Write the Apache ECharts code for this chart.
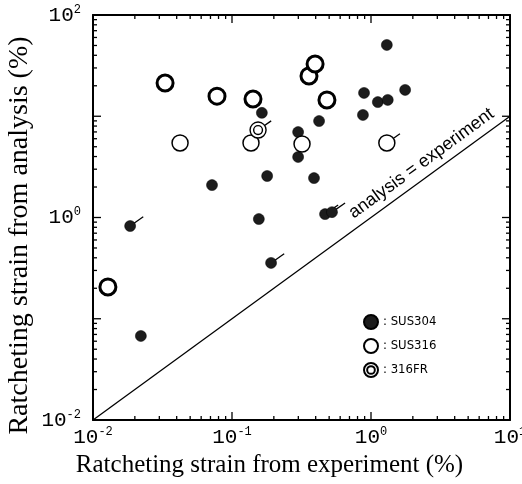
<!DOCTYPE html>
<html><head><meta charset="utf-8">
<script src="https://cdn.jsdelivr.net/npm/echarts@6/dist/echarts.min.js"></script>
<style>html,body{margin:0;padding:0;background:#fff}#c{width:522px;height:484px}</style>
</head><body><div id="c"></div>
<script>
// [experiment %, analysis %]
const sus304 = [
  [0.0185, 0.824], [0.0221, 0.0676], [0.156, 0.966], [0.191, 0.356],
  [0.164, 10.8], [0.0718, 2.09], [0.179, 2.57], [0.299, 6.98], [0.299, 3.96],
  [1.30, 50.6], [0.891, 17.0], [1.76, 18.2], [1.12, 13.8], [1.32, 14.5],
  [0.875, 10.3], [0.423, 8.97], [0.389, 2.45], [0.467, 1.08], [0.524, 1.13]
];
const sus316Thick = [
  [0.0330, 21.3], [0.0780, 15.8], [0.1416, 14.8], [0.358, 25.0],
  [0.396, 32.8], [0.482, 14.5], [0.0128, 0.206]
];
const sus316Thin = [
  [0.0423, 5.45], [0.137, 5.45], [0.319, 5.32], [1.30, 5.45]
];
const fr316 = [[0.154, 7.31]];
const tailPoints = [
  [0.0185, 0.824], [0.191, 0.356], [0.154, 7.31], [1.30, 5.45], [0.467, 1.08], [0.524, 1.13]
];
const diagonal = [[0.01, 0.01], [10, 10]];
const xDecades = [-2, -1, 0, 1];
const yDecades = [-2, -1, 0, 1, 2];
const seriesNames = ['SUS304', 'SUS316', '316FR'];
const diagLabel = 'analysis = experiment';
const xTitle = 'Ratcheting strain from experiment (%)';
const yTitle = 'Ratcheting strain from analysis (%)';

const doubleCircle = 'path://M10,0A10,10,0,1,1,10,20A10,10,0,1,1,10,0ZM10,4.5A5.5,5.5,0,1,1,10,15.5A5.5,5.5,0,1,1,10,4.5Z';

function tickValues(decs) {
  const out = [];
  for (let i = 0; i < decs.length; i++) {
    const base = Math.pow(10, decs[i]);
    if (i === decs.length - 1) { out.push([base, true]); break; }
    for (let m = 1; m <= 9; m++) out.push([m * base, m === 1]);
  }
  return out;
}
const xTickVals = tickValues(xDecades);
const yTickVals = tickValues(yDecades);
const xMin = Math.pow(10, xDecades[0]), xMax = Math.pow(10, xDecades[xDecades.length - 1]);
const yMin = Math.pow(10, yDecades[0]), yMax = Math.pow(10, yDecades[yDecades.length - 1]);

function powLabel(v, showOdd) {
  const e = Math.round(Math.log10(v));
  if (!showOdd && e % 2 !== 0) return '';
  return '{b|10}{s|' + e + '}';
}
const richLab = {
  b: { fontFamily: 'Liberation Mono', fontSize: 21, color: '#000' },
  s: { fontFamily: 'Liberation Mono', fontSize: 12, color: '#000', padding: [0, 0, 11, 0] }
};
const axisCommon = {
  axisLine: { show: true, onZero: false, lineStyle: { color: '#000', width: 2 } },
  axisTick: { show: false },
  minorTick: { show: false },
  splitLine: { show: false },
  minorSplitLine: { show: false }
};

const chart = echarts.init(document.getElementById('c'));
chart.setOption({
  animation: false,
  backgroundColor: '#fff',
  grid: { left: 93, right: 12, top: 15, bottom: 64, containLabel: false, outerBoundsMode: 'none' },
  legend: {
    orient: 'vertical', left: 358, top: 309, itemGap: 8, itemWidth: 14, itemHeight: 14,
    data: seriesNames,
    formatter: ': {name}',
    textStyle: { fontFamily: 'DejaVu Sans Condensed', fontSize: 13, color: '#000' }
  },
  xAxis: [
    Object.assign({
      type: 'log', logBase: 10, min: xMin, max: xMax, position: 'bottom',
      name: xTitle, nameLocation: 'middle', nameGap: 45, nameMoveOverlap: false,
      nameTextStyle: { fontFamily: 'Liberation Serif', fontSize: 25, color: '#000', verticalAlign: 'middle', padding: [0, 64, 0, 0] },
      axisLabel: { formatter: v => powLabel(v, true), rich: richLab, margin: 6 }
    }, axisCommon),
    Object.assign({
      type: 'log', logBase: 10, min: xMin, max: xMax, position: 'top',
      axisLabel: { show: false }
    }, axisCommon)
  ],
  yAxis: [
    Object.assign({
      type: 'log', logBase: 10, min: yMin, max: yMax, position: 'left',
      name: yTitle, nameLocation: 'middle', nameGap: 73, nameMoveOverlap: false,
      nameTextStyle: { fontFamily: 'Liberation Serif', fontSize: 28, color: '#000', verticalAlign: 'middle', padding: [0, 36, 0, 0] },
      axisLabel: { formatter: v => powLabel(v, false), rich: richLab, margin: 12 }
    }, axisCommon),
    Object.assign({
      type: 'log', logBase: 10, min: yMin, max: yMax, position: 'right',
      axisLabel: { show: false }
    }, axisCommon)
  ],
  series: [
    {
      name: 'ticks', type: 'custom', z: 5, silent: true, clip: false,
      data: [[1, 1]],
      renderItem: function (params, api) {
        const left = api.coord([xMin, 1])[0], right = api.coord([xMax, 1])[0];
        const bottom = api.coord([1, yMin])[1], top = api.coord([1, yMax])[1];
        const kids = [];
        const st = { stroke: '#000', lineWidth: 1.3 };
        xTickVals.forEach(function (t) {
          const px = api.coord([t[0], 1])[0];
          const len = t[1] ? 8 : 4;
          kids.push({ type: 'line', shape: { x1: px, y1: bottom, x2: px, y2: bottom - len }, style: st });
          kids.push({ type: 'line', shape: { x1: px, y1: top, x2: px, y2: top + len }, style: st });
        });
        yTickVals.forEach(function (t) {
          const py = api.coord([1, t[0]])[1];
          const len = t[1] ? 8 : 4;
          kids.push({ type: 'line', shape: { x1: left, y1: py, x2: left + len, y2: py }, style: st });
          kids.push({ type: 'line', shape: { x1: right, y1: py, x2: right - len, y2: py }, style: st });
        });
        return { type: 'group', children: kids };
      }
    },
    {
      name: 'diag', type: 'line', data: [], silent: true,
      markLine: {
        silent: true, symbol: ['none', 'none'], animation: false,
        lineStyle: { color: '#000', width: 1.3, type: 'solid' },
        label: {
          show: true, position: 'insideEndTop', formatter: diagLabel, distance: [12, 5],
          fontFamily: 'Liberation Sans', fontSize: 18, color: '#000'
        },
        emphasis: { disabled: true },
        data: [[{ coord: diagonal[0] }, { coord: diagonal[1] }]]
      }
    },
    {
      name: 'tails', type: 'custom', z: 1, silent: true,
      data: tailPoints,
      renderItem: function (params, api) {
        const p = api.coord([api.value(0), api.value(1)]);
        const a = 35 * Math.PI / 180;
        return {
          type: 'line',
          shape: { x1: p[0], y1: p[1], x2: p[0] + 16 * Math.cos(a), y2: p[1] - 16 * Math.sin(a) },
          style: { stroke: '#000', lineWidth: 1.3 }
        };
      }
    },
    {
      name: 'SUS304', type: 'scatter', z: 3, symbol: 'circle', symbolSize: 11,
      itemStyle: { color: '#1c1c1c', borderColor: '#000', borderWidth: 0.5, opacity: 1 },
      data: sus304
    },
    {
      name: 'SUS316', type: 'scatter', z: 3, symbol: 'circle', symbolSize: 16,
      itemStyle: { color: '#fff', borderColor: '#000', borderWidth: 1.5, opacity: 1 },
      data: sus316Thick.map(p => ({ value: p, itemStyle: { borderWidth: 3 } }))
        .concat(sus316Thin.map(p => ({ value: p, itemStyle: { borderWidth: 1.5 } })))
    },
    {
      name: '316FR', type: 'scatter', z: 3, symbol: doubleCircle, symbolSize: 16,
      itemStyle: { color: '#fff', borderColor: '#000', borderWidth: 1.4, opacity: 1 },
      data: fr316
    }
  ]
});
</script></body></html>
